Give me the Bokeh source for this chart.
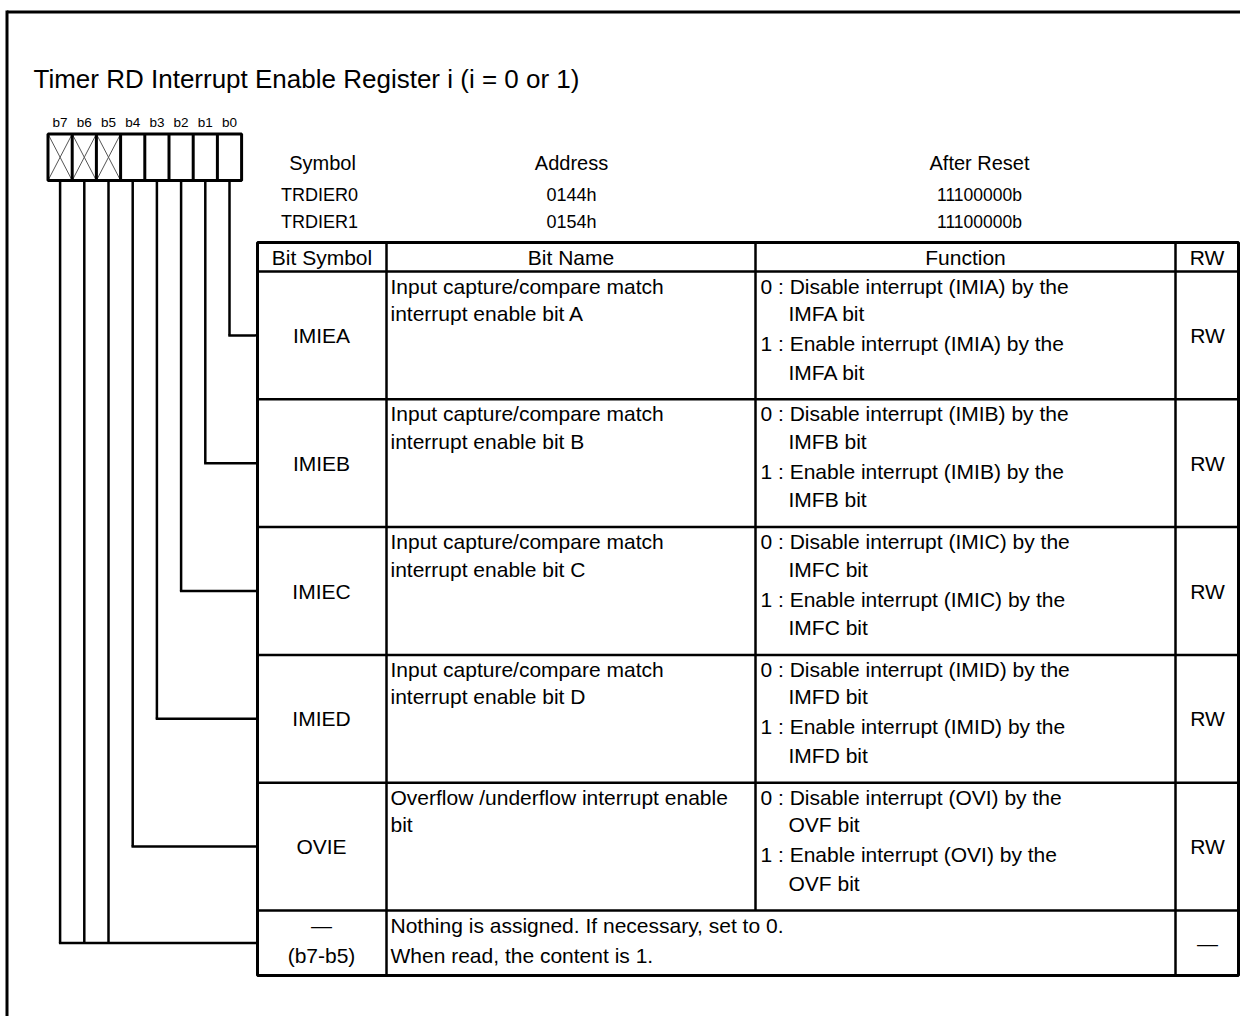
from bokeh.plotting import figure
from bokeh.models import Range1d
from bokeh.core.properties import value
from bokeh.embed import file_html
from bokeh.resources import INLINE

# ---------------- data ----------------
title = "Timer RD Interrupt Enable Register i (i = 0 or 1)"
bit_labels = ["b7", "b6", "b5", "b4", "b3", "b2", "b1", "b0"]
reserved_bits = ["b7", "b6", "b5"]
reg_head = ["Symbol", "Address", "After Reset"]
reg_symbols = ["TRDIER0", "TRDIER1"]
reg_addresses = ["0144h", "0154h"]
reg_resets = ["11100000b", "11100000b"]
col_heads = ["Bit Symbol", "Bit Name", "Function", "RW"]
row_bits = ["b0", "b1", "b2", "b3", "b4"]
row_symbols = ["IMIEA", "IMIEB", "IMIEC", "IMIED", "OVIE"]
row_names = [
    ["Input capture/compare match", "interrupt enable bit A"],
    ["Input capture/compare match", "interrupt enable bit B"],
    ["Input capture/compare match", "interrupt enable bit C"],
    ["Input capture/compare match", "interrupt enable bit D"],
    ["Overflow /underflow  interrupt enable", "bit"],
]
row_funcs = [
    ["0 : Disable interrupt (IMIA) by the", "IMFA bit", "1 : Enable interrupt (IMIA) by the", "IMFA bit"],
    ["0 : Disable interrupt (IMIB) by the", "IMFB bit", "1 : Enable interrupt (IMIB) by the", "IMFB bit"],
    ["0 : Disable interrupt (IMIC) by the", "IMFC bit", "1 : Enable interrupt (IMIC) by the", "IMFC bit"],
    ["0 : Disable interrupt (IMID) by the", "IMFD bit", "1 : Enable interrupt (IMID) by the", "IMFD bit"],
    ["0 : Disable interrupt (OVI) by the", "OVF bit", "1 : Enable interrupt (OVI) by the", "OVF bit"],
]
row_rw = ["RW", "RW", "RW", "RW", "RW"]
last_symbol = ["\u2014", "(b7-b5)"]
last_name = ["Nothing is assigned. If necessary, set to 0.", "When read, the content is 1."]
last_rw = "\u2014"

# ---------------- layout ----------------
FONT = value("Liberation Sans")
W, H = 1240, 1016
p = figure(width=W, height=H, output_backend="svg", toolbar_location=None,
           x_range=Range1d(0, W), y_range=Range1d(H, 0),
           min_border=0)
p.axis.visible = False
p.grid.visible = False
p.outline_line_color = None
p.background_fill_color = "white"
p.border_fill_color = "white"

TS = "21px"   # table text size

def seg(x0, y0, x1, y1, w=2.5, c="black"):
    p.segment(x0=[x0], y0=[y0], x1=[x1], y1=[y1], line_color=c, line_width=w)

def txt(x, y, s, size=TS, align="left", base="middle"):
    p.text(x=[x], y=[y], text=[s], text_font=FONT, text_font_size=value(size),
           text_align=align, text_baseline=base, text_color="black")

# outer frame (top + left)
seg(6.5, 11.5, W, 11.5, w=3)
seg(6.5, 10, 6.5, H, w=3)

# title
txt(33, 78, title, size="26px")

# bit boxes
bx0, cw, by0, by1 = 47.5, 24.2, 133.5, 180
for i, b in enumerate(bit_labels):
    cx = bx0 + cw * (i + 0.5)
    txt(cx, 122, b, size="13.5px", align="center")
    if b in reserved_bits:
        x0, x1 = bx0 + cw * i, bx0 + cw * (i + 1)
        seg(x0, by0, x1, by1, w=1, c="#555555")
        seg(x0, by1, x1, by0, w=1, c="#555555")
p.rect(x=[bx0 + cw * 4], y=[(by0 + by1) / 2], width=[cw * 8], height=[by1 - by0],
       fill_color=None, line_color="black", line_width=3)
for i in range(1, 8):
    seg(bx0 + cw * i, by0, bx0 + cw * i, by1, w=3)

# register info header
reg_x = [322, 571, 979]
for x, s in zip(reg_x, reg_head):
    txt(x, 162, s, size="20px", align="center")
for k in range(2):
    yy = 194 + 27 * k
    txt(319, yy, reg_symbols[k], size="18px", align="center")
    txt(571, yy, reg_addresses[k], size="18px", align="center")
    txt(979, yy, reg_resets[k], size="17.5px", align="center")

# table geometry
cols = [257, 386, 755, 1175, 1238]
t_top, head_b = 242, 271
row_h = 127.8
row_tops = [head_b + row_h * i for i in range(len(row_symbols))]
last_top = head_b + row_h * len(row_symbols)
last_bot = 975

# header texts
for j, s in enumerate(col_heads):
    txt((cols[j] + cols[j + 1]) / 2, 257, s, align="center")

# rows
fy = [14.5, 42, 72, 100.5]
for i, sym in enumerate(row_symbols):
    top = row_tops[i]
    mid = top + row_h / 2
    txt(321, mid, sym, align="center")
    for k, s in enumerate(row_names[i]):
        txt(390, top + 14.5 + 27.5 * k, s)
    for k, s in enumerate(row_funcs[i]):
        fx = 760 if k % 2 == 0 else 788
        txt(fx, top + fy[k], s)
    txt(1207, mid, row_rw[i], align="center")
    # connector from bit box
    bi = bit_labels.index(row_bits[i])
    cx = bx0 + cw * (bi + 0.5)
    seg(cx, by1, cx, mid, w=2.5)
    seg(cx - 1.2, mid, cols[0], mid, w=2.5)

# last row
lmid = (last_top + last_bot) / 2
txt(321, last_top + 15, last_symbol[0], align="center")
txt(321, last_top + 45, last_symbol[1], align="center")
txt(390, last_top + 15, last_name[0])
txt(390, last_top + 45, last_name[1])
txt(1207, lmid, last_rw, align="center")
rx = [bx0 + cw * (bit_labels.index(b) + 0.5) for b in reserved_bits]
for cx in rx:
    seg(cx, by1, cx, lmid, w=2.5)
seg(min(rx) - 1.2, lmid, cols[0], lmid, w=2.5)

# table lines
for y in [head_b] + row_tops[1:] + [last_top]:
    seg(cols[0], y, cols[-1], y, w=2.5)
seg(cols[1], t_top, cols[1], last_bot, w=2.5)
seg(cols[2], t_top, cols[2], last_top, w=2.5)
seg(cols[3], t_top, cols[3], last_bot, w=2.5)
p.rect(x=[(cols[0] + cols[-1]) / 2], y=[(t_top + last_bot) / 2],
       width=[cols[-1] - cols[0]], height=[last_bot - t_top],
       fill_color=None, line_color="black", line_width=3)

open("out.html", "w").write(file_html(p, INLINE))
